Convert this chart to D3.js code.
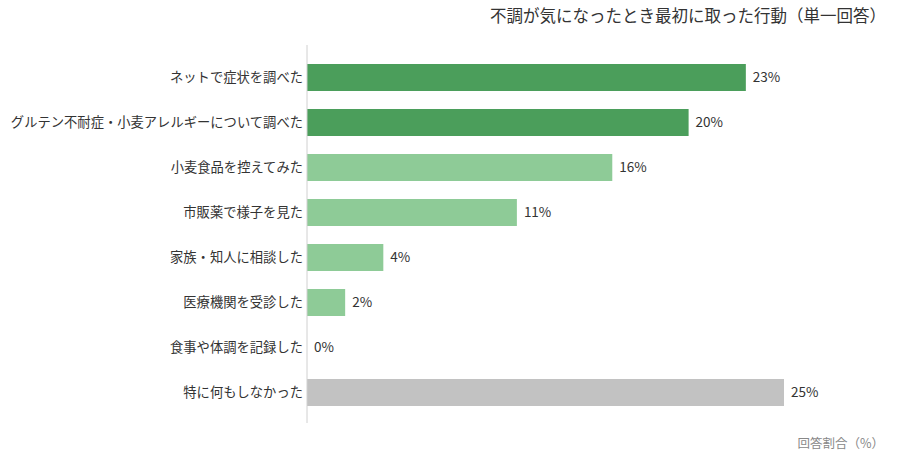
<!DOCTYPE html>
<html>
<head>
<meta charset="utf-8">
<script src="https://cdn.jsdelivr.net/npm/d3@7"></script>
<style>
  body { margin: 0; background: #fff; }
  text { font-family: "Noto Sans CJK JP", "Noto Sans", sans-serif; }
</style>
</head>
<body>
<div id="chart"></div>
<script>
// categories and values (%)
var categories = [
  "ネットで症状を調べた",
  "グルテン不耐症・小麦アレルギーについて調べた",
  "小麦食品を控えてみた",
  "市販薬で様子を見た",
  "家族・知人に相談した",
  "医療機関を受診した",
  "食事や体調を記録した",
  "特に何もしなかった"
];
var values = [23, 20, 16, 11, 4, 2, 0, 25];
// colour group per bar: 0 = dark green, 1 = light green, 2 = grey
var groups = [0, 0, 1, 1, 1, 1, 1, 2];
var groupColors = ["#4b9e5b", "#8ecb97", "#c2c2c2"];

var titleText = "不調が気になったとき最初に取った行動（単一回答）";
var axisTitle = "回答割合（%）";

var W = 899, H = 457;
var margin = { top: 55, right: 115, bottom: 35, left: 307 };

var svg = d3.select("#chart")
  .append("svg")
  .attr("width", W)
  .attr("height", H);

var x = d3.scaleLinear()
  .domain([0, 25])
  .range([margin.left, 784]);

var y = d3.scaleBand()
  .domain(categories)
  .range([55, 415])
  .paddingInner(0.4)
  .paddingOuter(0.2);

// title
svg.append("text")
  .attr("x", 886)
  .attr("y", 22)
  .attr("text-anchor", "end")
  .style("font-size", "16.5px")
  .style("fill", "#333")
  .text(titleText);

// bars
svg.selectAll("rect.bar")
  .data(values)
  .enter()
  .append("rect")
  .attr("class", "bar")
  .attr("x", x(0))
  .attr("y", function (d, i) { return y(categories[i]); })
  .attr("width", function (d) { return x(d) - x(0); })
  .attr("height", y.bandwidth())
  .style("fill", function (d, i) { return groupColors[groups[i]]; });

// value labels
svg.selectAll("text.val")
  .data(values)
  .enter()
  .append("text")
  .attr("class", "val")
  .attr("x", function (d) { return x(d) + 7; })
  .attr("y", function (d, i) { return y(categories[i]) + y.bandwidth() / 2; })
  .attr("dy", "0.35em")
  .style("font-size", "13.5px")
  .style("fill", "#333")
  .text(function (d) { return d + "%"; });

// category axis (labels only + vertical line)
var yAxis = svg.append("g")
  .attr("transform", "translate(" + margin.left + ",0)")
  .call(d3.axisLeft(y).tickSize(0).tickPadding(4));
yAxis.select(".domain").remove();
yAxis.selectAll("text")
  .style("font-size", "13.3px")
  .style("fill", "#333")
  .style("font-family", "'Noto Sans CJK JP', sans-serif");

svg.append("line")
  .attr("x1", margin.left)
  .attr("x2", margin.left)
  .attr("y1", 45)
  .attr("y2", 423)
  .style("stroke", "#d0d0d0")
  .style("stroke-width", 1);

// axis title
svg.append("text")
  .attr("x", 884)
  .attr("y", 448)
  .attr("text-anchor", "end")
  .style("font-size", "12.5px")
  .style("fill", "#888")
  .text(axisTitle);
</script>
</body>
</html>
